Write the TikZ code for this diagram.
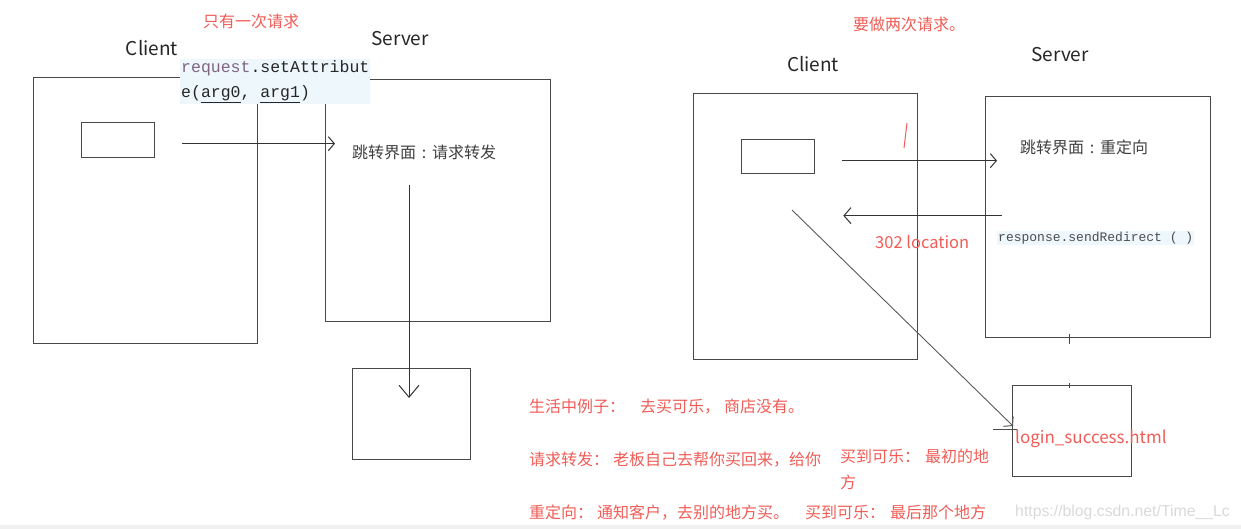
\documentclass[tikz,border=0pt]{standalone}
\usepackage{fontspec}
\usepackage{tikz}
\usetikzlibrary{arrows.meta,positioning,calc}
\newfontfamily\cjk{Noto Sans CJK SC}
\newfontfamily\codefont{Liberation Mono}
\newfontfamily\wmfont{Liberation Sans}
\newcommand{\zcolon}{\makebox[1em][c]{:}}
\definecolor{notered}{RGB}{240,92,86}
\definecolor{codebg}{RGB}{238,247,252}
\definecolor{boxgray}{RGB}{72,72,72}
\definecolor{reqpurple}{RGB}{128,100,130}

\begin{document}
\begin{tikzpicture}[x=1pt, y=-1pt,
  box/.style={draw=boxgray, line width=1.3pt, inner sep=0pt, anchor=north west},
  zh/.style={font=\cjk\fontsize{16}{16}\selectfont, inner sep=0pt, anchor=west, text=black!75},
  note/.style={zh, text=notered},
  lab/.style={font=\cjk\fontsize{19}{19}\selectfont, inner sep=0pt, text=black!85},
  code/.style={fill=codebg, inner sep=1pt, anchor=north west, align=left, text=black!85},
  hop/.style={line width=1pt, draw=black!80, -{Straight Barb[length=6pt, width=14pt, line width=1pt]}},
]
\useasboundingbox (0,0) rectangle (1241,529);
\fill[gray!12] (0,525) rectangle (1241,529);

\node[box, minimum width=224pt, minimum height=266pt] (clA) at (33,77) {};
\node[box, minimum width=73pt, minimum height=35pt] (btnA) at (81,122) {};
\node[box, minimum width=225pt, minimum height=242pt] (svA) at (325,79) {};
\node[box, minimum width=118pt, minimum height=91pt] (subA) at (352,368) {};
\node[note] (tA) at (203,21) {只有一次请求};
\node[lab] (clAlab) at (152,48) {Client};
\node[lab] (svAlab) at (400,39) {Server};
\node[code, font=\codefont\fontsize{16.5}{25}\selectfont] (reqA) at (180,59)
  {\textcolor{reqpurple}{request}.setAttribut\\e(\underline{arg0}, \underline{arg1})};
\node[zh] (fwdA) at (352,152) {跳转界面\zcolon 请求转发};
\draw[hop] ($(btnA.east)+(27pt,-3.5pt)$) -- ($(btnA.east -| svA.west)+(10pt,-3.5pt)$);
\coordinate (dropA) at (409,185);
\draw[hop, -{Straight Barb[length=12pt, width=20pt, line width=1pt]}] (dropA) -- ($(dropA |- subA.north)+(0,-30pt)$);

\node[box, minimum width=224pt, minimum height=266pt] (clB) at (693,93) {};
\node[box, minimum width=73pt, minimum height=34pt] (btnB) at (741,139) {};
\node[box, minimum width=225pt, minimum height=241pt] (svB) at (985,96) {};
\node[box, minimum width=119pt, minimum height=91pt] (logB) at (1012,385) {};
\node[note] (tB) at (853,24) {要做两次请求。};
\node[lab] (clBlab) at (813,64) {Client};
\node[lab] (svBlab) at (1060,55) {Server};
\node[zh] (fwdB) at (1020,147) {跳转界面\zcolon 重定向};
\node[code, anchor=west, text=black!70, font=\codefont\fontsize{13}{13}\selectfont] (respB) at (997,238) {response.sendRedirect ( )};
\node[note, font=\cjk\fontsize{16.5}{16.5}\selectfont] (locB) at (875,242) {302 location};
\node[note, font=\cjk\fontsize{17}{17}\selectfont] (logBlab) at (1015,439) {login\_success.html};
\draw[hop] ($(btnB.east)+(27pt,-4pt)$) -- ($(btnB.east -| svB.west)+(12pt,-4pt)$);
\draw[hop, -{Straight Barb[length=7pt, width=16pt, line width=1pt]}] ($(svB.west)+(17pt,1.5pt)$) -- ($(svB.west -| clB.east)+(-75pt,1.5pt)$);
\coordinate (diagB) at (792,210);
\draw[hop, draw=black!65, line width=0.9pt] (diagB) -- ($(logB.north west)+(1pt,-41pt)$);
\draw[black!70, line width=1pt] ($(logB.north west)+(-19pt,-44pt)$) -- ++(24pt,0);
\draw[notered, line width=1pt] (907,123) -- (904,148);
\draw[boxgray, line width=1pt] ($(svB.south)+(-28.5pt,4pt)$) -- ++(0,-10pt);
\draw[boxgray, line width=1pt] ($(logB.north)+(-2.5pt,2pt)$) -- ++(0,-5pt);

\node[note] (n1) at (529,407) {生活中例子：\hspace{15pt}去买可乐，\hspace{4pt}商店没有。};
\node[note] (n2) at (529,460) {请求转发：\hspace{4pt}老板自己去帮你买回来，给你};
\node[note] (n3) at (840,456) {买到可乐：\hspace{5pt}最初的地};
\node[note] (n4) at (840,482) {方};
\node[note] (n5) at (529,513) {重定向：\hspace{4pt}通知客户，去别的地方买。\hspace{16pt}买到可乐：\hspace{5pt}最后那个地方};
\node[zh, text=black!15, font=\wmfont\fontsize{15.8}{15.8}\selectfont] (wm) at (1015,512) {https://blog.csdn.net/Time\_\_Lc};
\end{tikzpicture}
\end{document}
